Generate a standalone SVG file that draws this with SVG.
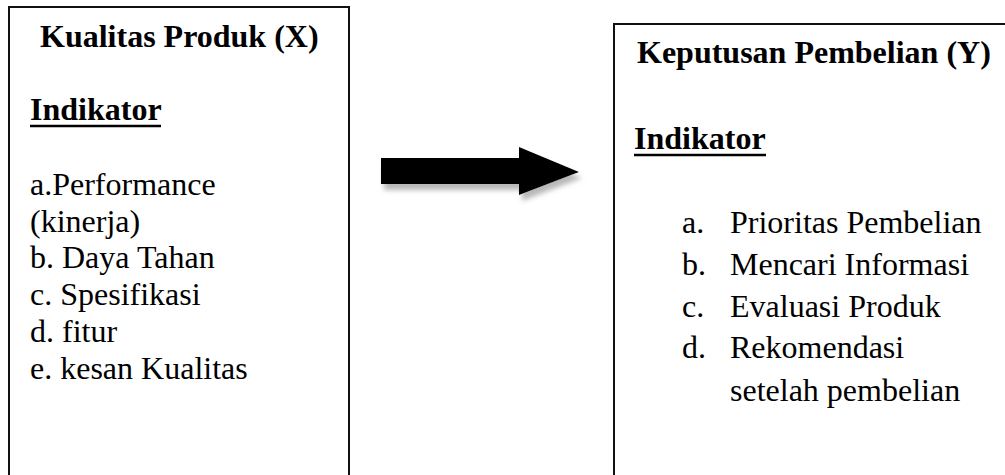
<svg xmlns="http://www.w3.org/2000/svg" width="1005" height="475" viewBox="0 0 1005 475">
  <style>
    .box { fill: #fff; stroke: #111; stroke-width: 2; }
    .t { font-family: "Liberation Serif", "Times New Roman", serif; font-size: 32px; fill: #000; }
    .b { font-weight: bold; }
    .ul { stroke: #000; stroke-width: 2.5; }
  </style>
  <defs>
    <filter id="shadow" x="-20%" y="-40%" width="140%" height="180%">
      <feDropShadow dx="3" dy="6" stdDeviation="2.5" flood-color="#888" flood-opacity="0.6"/>
    </filter>
  </defs>
  <rect width="1005" height="475" fill="#fff"/>

  <g id="node-x">
    <rect class="box" x="9" y="7" width="340" height="480"/>
    <text class="t b" x="40" y="47">Kualitas Produk (X)</text>
    <text class="t b" x="30" y="120">Indikator</text>
    <line class="ul" x1="30" y1="126" x2="161" y2="126"/>
    <text class="t" x="30" y="195">a.Performance</text>
    <text class="t" x="30" y="232">(kinerja)</text>
    <text class="t" x="30" y="268">b. Daya Tahan</text>
    <text class="t" x="30" y="305">c. Spesifikasi</text>
    <text class="t" x="30" y="342">d. fitur</text>
    <text class="t" x="30" y="379">e. kesan Kualitas</text>
  </g>

  <g id="node-y">
    <rect class="box" x="614" y="24" width="400" height="470"/>
    <text class="t b" x="637" y="63">Keputusan Pembelian (Y)</text>
    <text class="t b" x="634" y="149">Indikator</text>
    <line class="ul" x1="634" y1="155" x2="766" y2="155"/>
    <text class="t" x="682" y="233">a.</text>
    <text class="t" x="730" y="233">Prioritas Pembelian</text>
    <text class="t" x="682" y="275">b.</text>
    <text class="t" x="730" y="275">Mencari Informasi</text>
    <text class="t" x="682" y="317">c.</text>
    <text class="t" x="730" y="317">Evaluasi Produk</text>
    <text class="t" x="682" y="358">d.</text>
    <text class="t" x="730" y="358">Rekomendasi</text>
    <text class="t" x="730" y="401">setelah pembelian</text>
  </g>

  <g id="connectors">
    <polygon points="381,158 519,158 519,147 579,172 519,195 519,184 381,184" fill="#000" filter="url(#shadow)"/>
  </g>
</svg>
